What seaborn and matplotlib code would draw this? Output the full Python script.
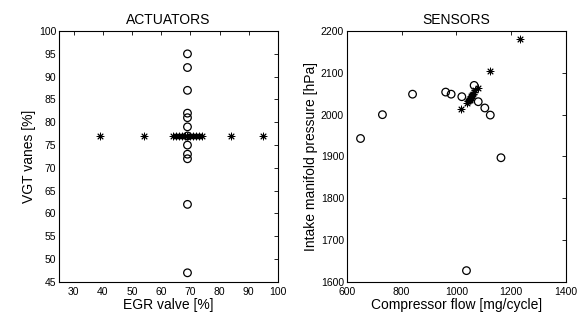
import matplotlib
matplotlib.use('Agg')
import matplotlib.pyplot as plt
import seaborn as sns

# actuators: EGR sweep (asterisks) and VGT sweep (circles)
egr_sweep = [39, 54, 64, 65, 66, 67, 68, 69, 70, 71, 72, 73, 74, 84, 95]
vgt_fixed = [77] * len(egr_sweep)
vgt_sweep = [95, 92, 87, 82, 81, 79, 77, 75, 73, 72, 62, 47]
egr_fixed = [69] * len(vgt_sweep)

# sensors: response to each sweep
flow_star = [1231, 1124, 1040, 1043, 1046, 1049, 1052, 1055, 1058, 1061, 1064, 1068, 1080, 1050, 1016]
press_star = [2182, 2105, 2028, 2032, 2035, 2038, 2041, 2044, 2047, 2050, 2054, 2058, 2063, 2036, 2013]
flow_circ = [650, 730, 840, 961, 981, 1020, 1065, 1080, 1104, 1124, 1163, 1037]
press_circ = [1943, 2000, 2049, 2054, 2049, 2043, 2070, 2031, 2016, 1999, 1897, 1627]

sns.set_style('white')
plt.rcParams['font.family'] = ['Liberation Sans', 'DejaVu Sans']
plt.rcParams['text.color'] = 'black'
plt.rcParams['axes.labelcolor'] = 'black'
plt.rcParams['xtick.direction'] = 'in'
plt.rcParams['ytick.direction'] = 'in'

fig = plt.figure(figsize=(5.8, 3.2), dpi=100)
ax1 = fig.add_axes([0.1017, 0.119, 0.3776, 0.784])
ax2 = fig.add_axes([0.598, 0.119, 0.3776, 0.784])

star = (8, 2, 0)

def draw(ax, xs, ys, xc, yc):
    sns.scatterplot(x=xc, y=yc, ax=ax, marker='o', s=30, facecolors='none',
                    edgecolor='black', linewidth=0.9, zorder=3)
    sns.scatterplot(x=xs, y=ys, ax=ax, marker=star, s=24, color='black',
                    edgecolor='black', linewidth=0.7, zorder=4)
    for side in ax.spines.values():
        side.set_color('black')
        side.set_linewidth(0.8)
    ax.tick_params(which='both', top=True, right=True, length=3, width=0.6,
                   labelsize=7.5, colors='black')
    ax.tick_params(axis='x', pad=3.5)
    ax.tick_params(axis='y', pad=2)

draw(ax1, egr_sweep, vgt_fixed, egr_fixed, vgt_sweep)
ax1.set_xlim(25, 100)
ax1.set_ylim(45, 100)
ax1.set_xticks(range(30, 101, 10))
ax1.set_yticks(range(45, 101, 5))
ax1.set_xlabel('EGR valve [%]', fontsize=10, labelpad=1)
ax1.set_ylabel('VGT vanes [%]', fontsize=10, labelpad=2)
ax1.set_title('ACTUATORS', fontsize=10, pad=5)

draw(ax2, flow_star, press_star, flow_circ, press_circ)
ax2.set_xlim(600, 1400)
ax2.set_ylim(1600, 2200)
ax2.set_xticks(range(600, 1401, 200))
ax2.set_yticks(range(1600, 2201, 100))
ax2.set_xlabel('Compressor flow [mg/cycle]', fontsize=10, labelpad=1)
ax2.set_ylabel('Intake manifold pressure [hPa]', fontsize=10, labelpad=2)
ax2.set_title('SENSORS', fontsize=10, pad=5)

fig.savefig('out.png', dpi=100, facecolor='white')
